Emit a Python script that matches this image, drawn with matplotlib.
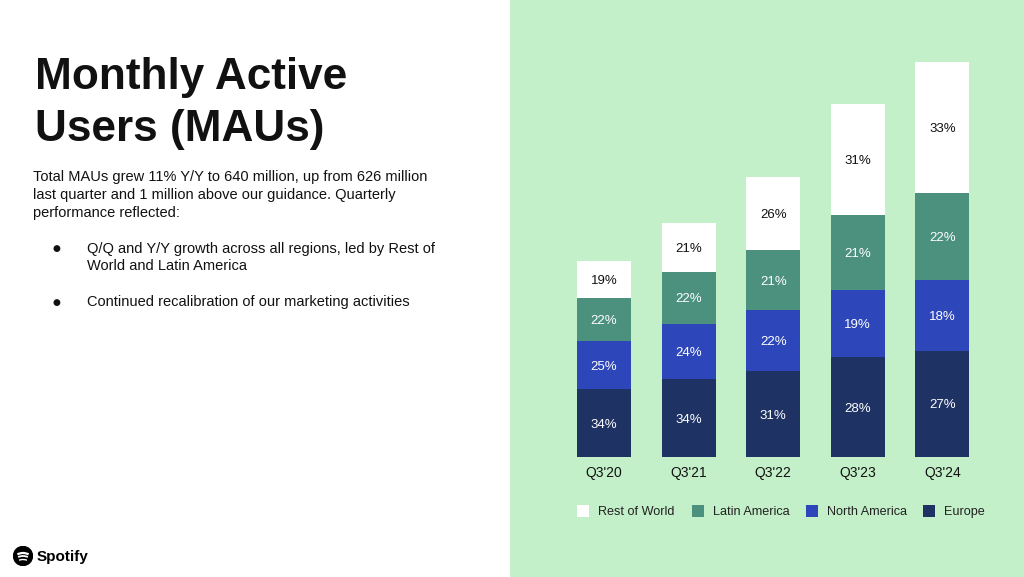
import matplotlib
matplotlib.use("Agg")
import matplotlib.pyplot as plt
from matplotlib.patches import Rectangle, Circle, Arc
import numpy as np

# ---- data ----
categories = ["Q3'20", "Q3'21", "Q3'22", "Q3'23", "Q3'24"]
series_names = ["Europe", "North America", "Latin America", "Rest of World"]
europe = [110, 127, 140, 162, 173]          # millions
north_america = [78, 90, 99, 110, 115]
latin_america = [71, 84, 97, 121, 141]
rest_of_world = [59, 79, 118, 180, 212]
europe_pct = ["34%", "34%", "31%", "28%", "27%"]
north_america_pct = ["25%", "24%", "22%", "19%", "18%"]
latin_america_pct = ["22%", "22%", "21%", "21%", "22%"]
rest_of_world_pct = ["19%", "21%", "26%", "31%", "33%"]
legend_order = ["Rest of World", "Latin America", "North America", "Europe"]

colors = {"Europe": "#1e3264", "North America": "#2d46b9",
          "Latin America": "#4b917d", "Rest of World": "#ffffff"}
text_colors = {"Europe": "white", "North America": "white",
               "Latin America": "white", "Rest of World": "#111111"}

FONT = "Liberation Sans"
W, H = 1024, 577
fig = plt.figure(figsize=(W / 100, H / 100), dpi=100)
fig.patch.set_facecolor("white")

def px(x, y):
    return (x / W, 1 - y / H)

# green panel (background axes)
bg = fig.add_axes([510 / W, 0, 1 - 510 / W, 1], zorder=-10)
bg.set_facecolor("#c3f0c8")
bg.set_xticks([])
bg.set_yticks([])
for s in bg.spines.values():
    s.set_visible(False)

# ---- left text ----
fig.text(*px(35, 89), "Monthly Active", fontsize=31.8, fontweight="bold",
         family=FONT, color="#111111", va="baseline", ha="left")
fig.text(*px(35, 141.5), "Users (MAUs)", fontsize=31.8, fontweight="bold",
         family=FONT, color="#111111", va="baseline", ha="left")
body = ["Total MAUs grew 11% Y/Y to 640 million, up from 626 million",
        "last quarter and 1 million above our guidance. Quarterly",
        "performance reflected:"]
for i, line in enumerate(body):
    fig.text(*px(33, 181.5 + i * 18), line, fontsize=10.5, family=FONT,
             color="#111111", va="baseline")
bullets = [["Q/Q and Y/Y growth across all regions, led by Rest of",
            "World and Latin America"],
           ["Continued recalibration of our marketing activities"]]
bullet_y = [253, 306]
for b, y0 in zip(bullets, bullet_y):
    fig.text(*px(56, y0 - 4), "●", fontsize=6.5, family="DejaVu Sans",
             color="#111111", va="center", ha="center")
    for j, line in enumerate(b):
        fig.text(*px(87, y0 + j * 17.5), line, fontsize=10.5, family=FONT,
                 color="#111111", va="baseline")

# ---- chart ----
spacing = 84.6
left = 604 - 0.6 * spacing
base = 457.3
scale = 394.6 / 640.0
ymax = 700
ax = fig.add_axes([left / W, (H - base) / H, 5.2 * spacing / W, ymax * scale / H])
ax.set_facecolor("none")
x = np.arange(len(categories))
stack = [("Europe", europe, europe_pct),
         ("North America", north_america, north_america_pct),
         ("Latin America", latin_america, latin_america_pct),
         ("Rest of World", rest_of_world, rest_of_world_pct)]
bottom = np.zeros(len(categories))
for name, vals, pcts in stack:
    vals = np.array(vals, dtype=float)
    ax.bar(x, vals, bottom=bottom, width=0.64, color=colors[name],
           edgecolor="none", label=name)
    for xi, b0, v, p in zip(x, bottom, vals, pcts):
        ax.text(xi, b0 + v / 2, p, ha="center", va="center_baseline", fontsize=9.5,
                family=FONT, color=text_colors[name])
    bottom += vals
ax.set_xlim(-0.6, 4.6)
ax.set_ylim(0, ymax)
ax.set_xticks(x, categories)
ax.tick_params(axis="x", length=0, pad=6)
for lab in ax.get_xticklabels():
    lab.set_fontfamily(FONT)
    lab.set_fontsize(10)
    lab.set_color("#111111")
ax.set_yticks([])
for s in ax.spines.values():
    s.set_visible(False)

# ---- legend (manual) ----
leg_x = [577, 692, 806, 923]
for name, lx in zip(legend_order, leg_x):
    fig.patches.append(Rectangle(px(lx, 516.5), 12 / W, 12 / H,
                                 transform=fig.transFigure, facecolor=colors[name],
                                 edgecolor="none", zorder=2))
    fig.text(*px(lx + 21, 515), name, fontsize=9.1, family=FONT,
             color="#222222", va="baseline", ha="left")

# ---- Spotify logo ----
lax = fig.add_axes([13 / W, (H - 566) / H, 20 / W, 20 / H])
lax.set_xlim(-1, 1)
lax.set_ylim(-1, 1)
lax.set_aspect("equal")
lax.axis("off")
lax.add_patch(Circle((0, 0), 0.95, color="black"))
lax.add_patch(Arc((0, -0.9), 2.4, 2.4, theta1=62, theta2=118, color="white", lw=1.6))
lax.add_patch(Arc((0, -1.2), 2.4, 2.4, theta1=66, theta2=114, color="white", lw=1.3))
lax.add_patch(Arc((0, -1.4), 2.1, 2.1, theta1=68, theta2=112, color="white", lw=1.0))
fig.text(*px(37, 561), "Spotify", fontsize=11, fontweight="bold", family=FONT,
         color="black", va="baseline")

fig.savefig("out.png", dpi=100)
